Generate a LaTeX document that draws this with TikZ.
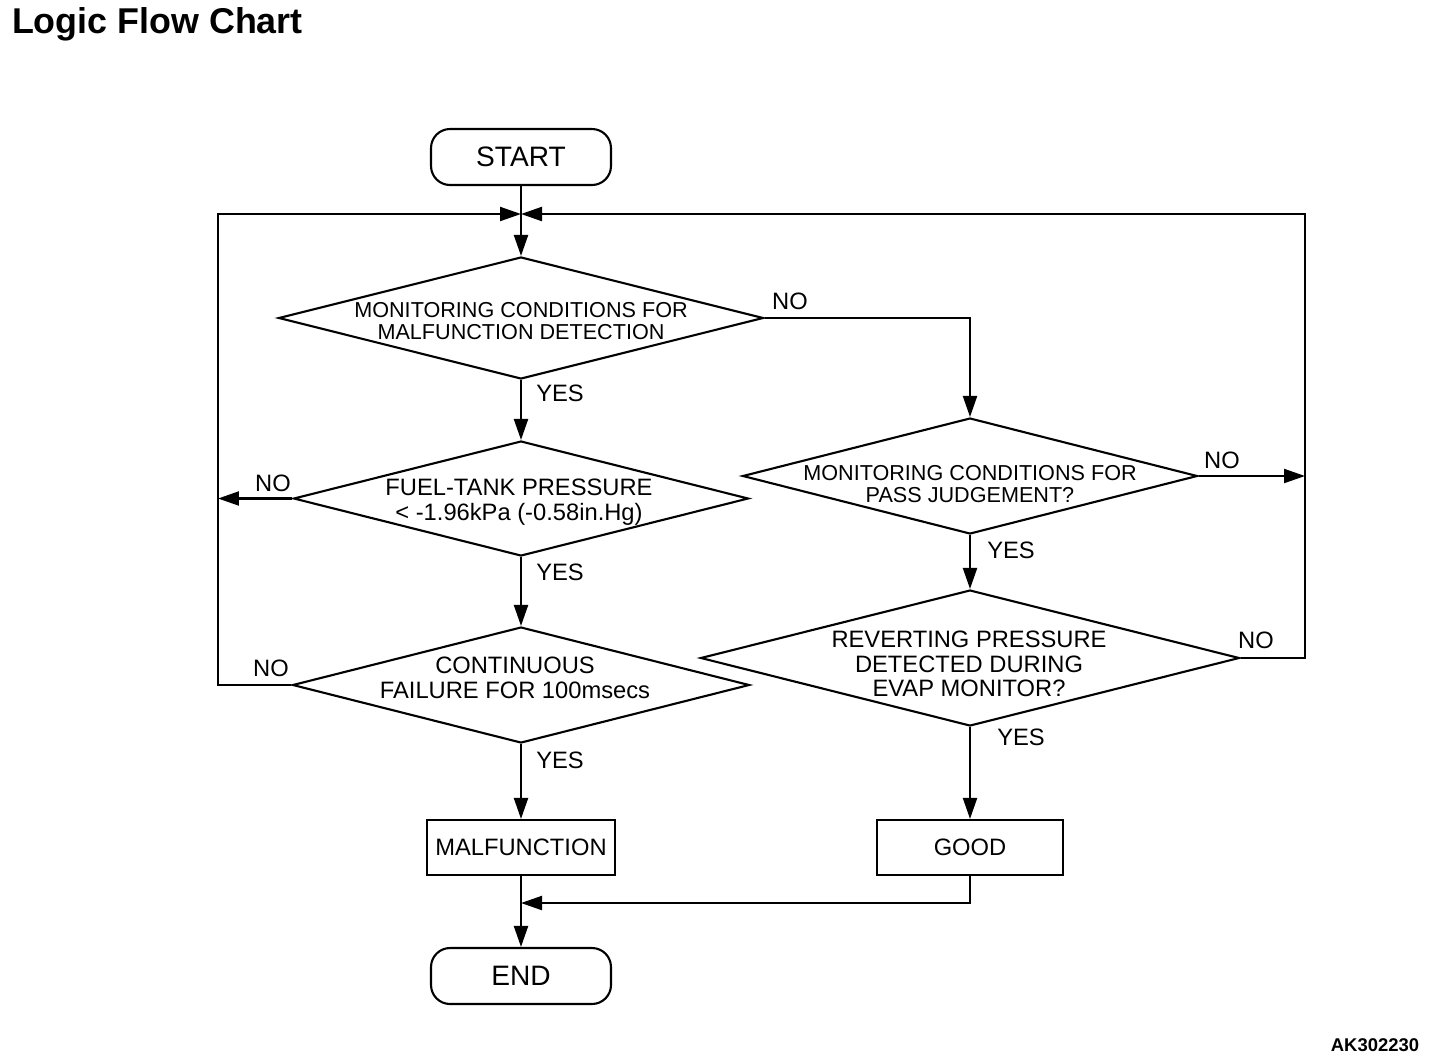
\documentclass[tikz,border=0pt]{standalone}
\usepackage{fontspec}
\setmainfont{Liberation Sans}
\usetikzlibrary{shapes.geometric,arrows.meta}

\begin{document}
\begin{tikzpicture}[x=0.02cm,y=-0.02cm,line width=1.2pt,
        >={Triangle[length=0.42cm,width=0.28cm]},
        term/.style={draw,rounded corners=0.38cm,minimum width=3.6cm,minimum height=1.12cm,
                     font=\fontsize{16}{18}\selectfont},
        decide/.style={draw,diamond,inner sep=0pt},
        proc/.style={draw,minimum height=1.1cm,font=\fontsize{13.5}{15}\selectfont},
        dtext/.style={align=center,inner sep=0pt,font=\fontsize{13.5}{14}\selectfont},
        dsmall/.style={align=center,inner sep=0pt,font=\fontsize{12.3}{12.6}\selectfont},
        lbl/.style={inner sep=0pt,font=\fontsize{13.5}{15}\selectfont}]
        \useasboundingbox (0,0) rectangle (1456,1062);

        % title and figure code
        \node[anchor=west,inner sep=0pt,font=\fontsize{20.4}{22}\selectfont\bfseries] (title) at (11,24) {Logic Flow Chart};
        \node[inner sep=0pt,font=\fontsize{10.5}{12}\selectfont\bfseries] (code) at (1375,1045) {AK302230};

        % left column
        \node[term] (start) at (521,157) {START};
        \node[decide,minimum width=9.7cm,minimum height=2.44cm] (d1) at (521,318) {};
        \node[dsmall] (d1t) at (521,321) {MONITORING CONDITIONS FOR\\MALFUNCTION DETECTION};
        \node[decide,minimum width=9.1cm,minimum height=2.3cm] (d2) at (521,498.5) {};
        \node[dtext] (d2t) at (519,502) {FUEL-TANK PRESSURE\\< -1.96kPa (-0.58in.Hg)};
        \node[decide,minimum width=9.14cm,minimum height=2.32cm] (d3) at (521,685) {};
        \node[dtext] (d3t) at (515,678) {CONTINUOUS\\FAILURE FOR 100msecs};
        \node[proc,minimum width=3.76cm] (malf) at (521,847.5) {MALFUNCTION};
        \node[term] (end) at (521,976) {END};

        % right column
        \node[decide,minimum width=9.1cm,minimum height=2.32cm] (d4) at (970,476) {};
        \node[dsmall] (d4t) at (970,484) {MONITORING CONDITIONS FOR\\PASS JUDGEMENT?};
        \node[decide,minimum width=10.78cm,minimum height=2.72cm] (d5) at (970,658) {};
        \node[dtext] (d5t) at (969,664) {REVERTING PRESSURE\\DETECTED DURING\\EVAP MONITOR?};
        \node[proc,minimum width=3.72cm] (good) at (970,847.5) {GOOD};

        % corner points
        \coordinate (join) at (521,214);
        \coordinate (ltop) at (218,214);
        \coordinate (rtop) at (1305,214);
        \coordinate (merge) at (521,903);

        % connectors
        \draw (start) -- (join);
        \draw[->] (join) -- (d1.north);
        \draw[->] (d1.south) -- (d2.north);
        \draw[->] (d2.south) -- (d3.north);
        \draw[->] (d3.south) -- (malf.north);
        \draw[->] (malf.south) -- (end.north);
        \draw[->] (d1.east) -| (d4.north);
        \draw[->] (d4.south) -- (d5.north);
        \draw[->] (d5.south) -- (good.north);
        \draw[->] (good.south) |- (merge);
        \draw[->] (d2.west) -- (d2.west -| ltop);
        \draw[->] (d3.west) -| (ltop) -- (join);
        \draw[->] (d4.east) -- (d4.east -| rtop);
        \draw[->] (d5.east) -| (rtop) -- (join);

        % yes / no labels
        \node[lbl] (n1) at (790,301) {NO};
        \node[lbl] (y1) at (560,393) {YES};
        \node[lbl] (n2) at (273,483) {NO};
        \node[lbl] (y2) at (560,572) {YES};
        \node[lbl] (n3) at (271,668) {NO};
        \node[lbl] (y3) at (560,760) {YES};
        \node[lbl] (n4) at (1222,460) {NO};
        \node[lbl] (y4) at (1011,550) {YES};
        \node[lbl] (n5) at (1256,640) {NO};
        \node[lbl] (y5) at (1021,737) {YES};
\end{tikzpicture}
\end{document}
